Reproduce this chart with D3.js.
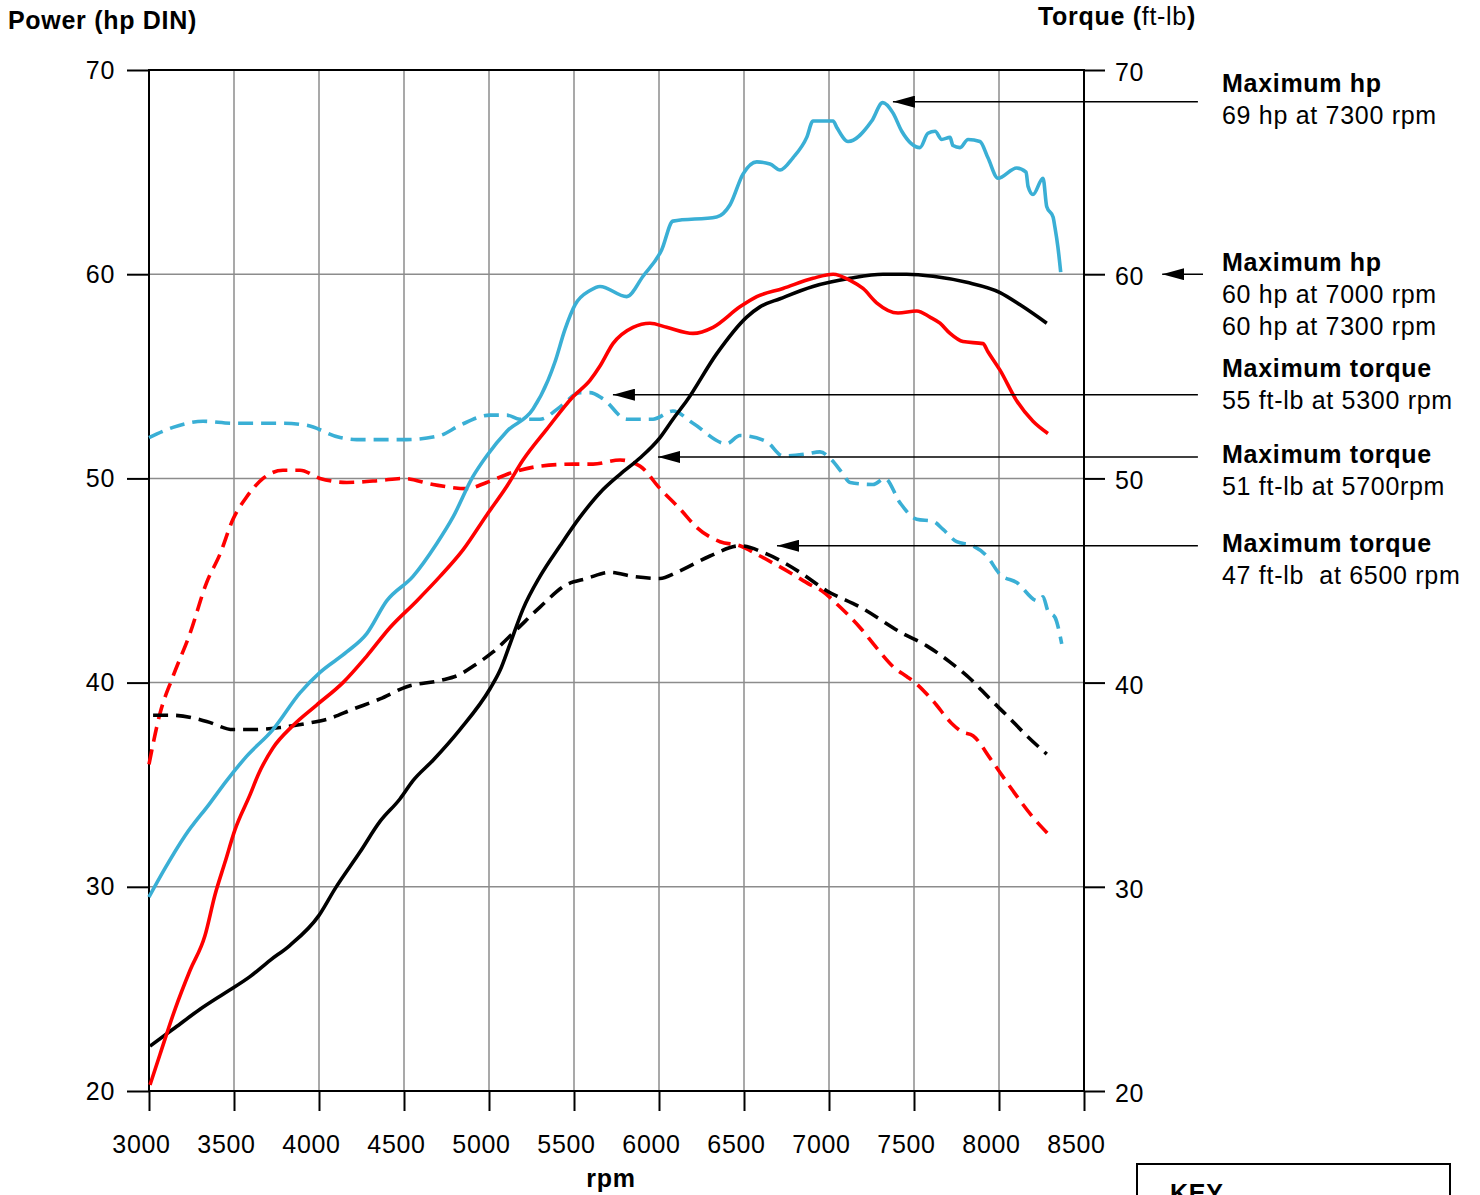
<!DOCTYPE html>
<html lang="en">
<head>
    <meta charset="UTF-8">
    <title>Power and torque curves</title>
    <style>
        body, html {
            margin: 0;
            overflow: hidden;
            background: #fff;
        }
        svg text {
            font-family: "Liberation Sans", Arial, Helvetica, sans-serif;
            letter-spacing: 0.7px;
            white-space: pre;
        }
    </style>
</head>
<body>

<script src="https://d3js.org/d3.v7.min.js"></script>

<script>
    // ---- data (rpm, value) ----
    const powerBlue = [[3000,29.5],[3094,30.9],[3212,32.5],[3359,34.1],[3457,35.2],[3575,36.4],[3729,37.7],[3888,39.5],[4006,40.5],[4163,41.5],[4281,42.4],[4398,44.0],[4553,45.2],[4692,46.8],[4788,48.1],[4906,50.1],[4986,51.1],[5104,52.3],[5259,53.4],[5347,54.8],[5388,55.7],[5447,57.3],[5506,58.5],[5594,59.2],[5653,59.4],[5810,58.9],[5906,59.9],[6016,61.2],[6082,62.6],[6339,62.8],[6418,63.4],[6494,64.9],[6575,65.5],[6653,65.4],[6712,65.1],[6788,65.7],[6869,66.7],[6906,67.5],[7024,67.5],[7045,67.2],[7112,66.5],[7251,67.5],[7316,68.4],[7376,67.9],[7428,67.0],[7535,66.2],[7582,66.9],[7624,67.0],[7663,66.6],[7712,66.7],[7729,66.3],[7771,66.2],[7818,66.6],[7888,66.5],[7935,65.7],[7994,64.7],[8104,65.2],[8159,65.0],[8171,64.3],[8200,63.9],[8259,64.7],[8281,63.3],[8318,62.8],[8329,62.3],[8347,61.3],[8363,60.1]];

    const powerRed = [[3006,20.3],[3065,21.8],[3153,24.0],[3241,25.9],[3329,27.6],[3388,29.6],[3447,31.2],[3506,32.8],[3594,34.5],[3643,35.5],[3729,36.8],[3847,37.9],[3986,38.9],[4141,40.0],[4281,41.3],[4418,42.7],[4575,44.0],[4712,45.2],[4847,46.5],[4986,48.2],[5104,49.6],[5200,50.9],[5339,52.4],[5494,54.0],[5594,54.8],[5653,55.5],[5729,56.6],[5847,57.4],[5947,57.6],[6045,57.4],[6200,57.1],[6318,57.4],[6476,58.4],[6575,58.9],[6729,59.3],[6906,59.8],[7024,60.0],[7124,59.7],[7200,59.3],[7280,58.6],[7406,58.1],[7516,58.2],[7594,57.9],[7653,57.6],[7712,57.1],[7788,56.7],[7906,56.6],[7935,56.2],[8006,55.3],[8104,53.8],[8200,52.8],[8288,52.2]];

    const powerBlack = [[3006,22.2],[3153,23.1],[3300,24.0],[3447,24.8],[3594,25.6],[3712,26.4],[3824,27.1],[4000,28.6],[4094,29.9],[4241,31.7],[4359,33.2],[4476,34.3],[4553,35.2],[4671,36.2],[4829,37.7],[5006,39.7],[5065,40.6],[5124,41.9],[5200,43.6],[5300,45.2],[5418,46.7],[5535,48.1],[5653,49.3],[5771,50.2],[5888,51.0],[6006,52.0],[6082,52.9],[6163,53.8],[6339,56.1],[6516,57.9],[6594,58.4],[6712,58.8],[6906,59.4],[7124,59.8],[7318,60.0],[7457,60.0],[7612,59.9],[7810,59.6],[8006,59.1],[8124,58.5],[8281,57.6]];

    const torqueBlue = [[3000,52.0],[3141,52.5],[3318,52.8],[3494,52.7],[3633,52.7],[3788,52.7],[3928,52.6],[4124,52.0],[4222,51.9],[4516,51.9],[4712,52.1],[4829,52.6],[5006,53.1],[5104,53.1],[5182,52.9],[5300,52.9],[5418,53.5],[5535,54.2],[5594,54.2],[5671,53.9],[5810,52.9],[5965,52.9],[6082,53.3],[6200,52.7],[6398,51.7],[6476,52.1],[6633,51.8],[6729,51.1],[6869,51.2],[6947,51.3],[7016,50.9],[7075,50.3],[7124,49.8],[7259,49.7],[7329,50.0],[7418,48.8],[7516,48.0],[7612,47.9],[7671,47.5],[7751,46.9],[7847,46.7],[7928,46.2],[8006,45.3],[8104,44.9],[8229,44.0],[8259,44.2],[8288,43.5],[8329,43.2],[8369,41.9]];

    const torqueRed = [[3000,36.0],[3065,38.5],[3141,40.3],[3241,42.4],[3339,44.9],[3418,46.3],[3494,48.0],[3575,49.1],[3671,50.0],[3788,50.4],[3888,50.4],[4006,50.0],[4163,49.8],[4359,49.9],[4494,50.0],[4671,49.7],[4869,49.5],[4986,49.8],[5141,50.3],[5300,50.6],[5494,50.7],[5612,50.7],[5771,50.9],[5888,50.6],[6006,49.5],[6124,48.5],[6222,47.6],[6359,46.9],[6476,46.7],[6594,46.2],[6788,45.3],[6888,44.8],[6957,44.5],[7065,43.7],[7182,42.7],[7280,41.7],[7388,40.7],[7457,40.3],[7506,40.0],[7612,39.1],[7722,38.0],[7780,37.6],[7847,37.4],[7947,36.3],[8006,35.6],[8082,34.7],[8200,33.4],[8288,32.6]];

    const torqueBlack = [[3024,38.4],[3141,38.4],[3339,38.1],[3494,37.7],[3612,37.7],[3771,37.8],[3928,38.0],[4045,38.2],[4200,38.7],[4359,39.2],[4516,39.8],[4712,40.1],[4829,40.4],[4906,40.8],[5024,41.5],[5163,42.6],[5300,43.7],[5457,44.8],[5575,45.1],[5712,45.4],[5847,45.2],[6006,45.1],[6104,45.4],[6300,46.2],[6476,46.7],[6633,46.3],[6829,45.4],[6986,44.5],[7182,43.7],[7435,42.4],[7575,41.8],[7712,41.0],[7829,40.2],[7947,39.2],[8045,38.4],[8163,37.4],[8281,36.5]];

    const rpmTicks = [3000, 3500, 4000, 4500, 5000, 5500, 6000, 6500, 7000, 7500, 8000, 8500];
    const valueTicks = [20, 30, 40, 50, 60, 70];

    // annotation arrows: [tail rpm, tip rpm, value]
    const arrows = [[9170, 7376, 68.45], [9200, 8960, 60.0], [9170, 5729, 54.1], [9170, 5994, 51.05], [9170, 6694, 46.7]];
    const noteTitles = ["Maximum hp", "Maximum hp", "Maximum torque", "Maximum torque", "Maximum torque"];
    const noteLines = [
        ["69 hp at 7300 rpm"],
        ["60 hp at 7000 rpm", "60 hp at 7300 rpm"],
        ["55 ft-lb at 5300 rpm"],
        ["51 ft-lb at 5700rpm"],
        ["47 ft-lb  at 6500 rpm"]
    ];
    const noteBaselines = [92, 271, 377, 463, 552];

    // ---- layout ----
    const width = 1480, height = 1195;
    const blue = "#3aafd5", red = "#ff0000";

    const x = d3.scaleLinear().domain([3000, 8500]).range([149, 1084]);
    const y = d3.scaleLinear().domain([20, 70]).range([1091, 70]);

    const svg = d3.select("body").append("svg")
        .attr("width", width)
        .attr("height", height);

    // grid
    svg.append("g")
        .selectAll("line")
        .data(rpmTicks.slice(1, -1))
        .join("line")
        .attr("x1", d => x(d)).attr("x2", d => x(d))
        .attr("y1", y(70)).attr("y2", y(20))
        .attr("stroke", "#8c8c8c")
        .attr("stroke-width", 1.5);

    svg.append("g")
        .selectAll("line")
        .data(valueTicks.slice(1, -1))
        .join("line")
        .attr("x1", x(3000)).attr("x2", x(8500))
        .attr("y1", d => y(d)).attr("y2", d => y(d))
        .attr("stroke", "#8c8c8c")
        .attr("stroke-width", 1.5);

    // axes
    const xAxis = svg.append("g")
        .attr("transform", `translate(0,${y(20)})`)
        .call(d3.axisBottom(x).tickValues(rpmTicks).tickSize(20).tickPadding(24).tickFormat(d3.format("d")));
    xAxis.selectAll("text").attr("dx", -8);

    const yLeft = svg.append("g")
        .attr("transform", `translate(${x(3000)},0)`)
        .call(d3.axisLeft(y).tickValues(valueTicks).tickSize(22).tickPadding(12));

    const yRight = svg.append("g")
        .attr("transform", `translate(${x(8500)},0)`)
        .call(d3.axisRight(y).tickValues(valueTicks).tickSize(21).tickPadding(10));
    yRight.selectAll("text").attr("dy", "0.42em");

    [xAxis, yLeft, yRight].forEach(g => {
        g.select(".domain").remove();
        g.selectAll("line").attr("stroke", "#000").attr("stroke-width", 2);
        g.selectAll("text")
            .attr("fill", "#000")
            .style("font-size", "25px");
    });

    // frame
    svg.append("rect")
        .attr("x", x(3000)).attr("y", y(70))
        .attr("width", x(8500) - x(3000))
        .attr("height", y(20) - y(70))
        .attr("fill", "none")
        .attr("stroke", "#000")
        .attr("stroke-width", 2);

    // curves
    const line = d3.line()
        .x(d => x(d[0]))
        .y(d => y(d[1]))
        .curve(d3.curveMonotoneX);

    const series = [
        [torqueBlue, blue, true],
        [torqueRed, red, true],
        [torqueBlack, "#000", true],
        [powerBlack, "#000", false],
        [powerRed, red, false],
        [powerBlue, blue, false]
    ];

    svg.append("g")
        .selectAll("path")
        .data(series)
        .join("path")
        .attr("d", d => line(d[0]))
        .attr("fill", "none")
        .attr("stroke", d => d[1])
        .attr("stroke-width", 3.6)
        .attr("stroke-linejoin", "round")
        .attr("stroke-dasharray", d => d[2] ? "15,8" : null);

    // arrows
    svg.append("defs").append("marker")
        .attr("id", "head")
        .attr("viewBox", "0 0 22 12")
        .attr("refX", 0).attr("refY", 6)
        .attr("markerWidth", 22).attr("markerHeight", 12)
        .attr("markerUnits", "userSpaceOnUse")
        .attr("orient", "auto")
        .append("path")
        .attr("d", "M0,6L22,0L22,12Z")
        .attr("fill", "#000");

    svg.append("g")
        .selectAll("line")
        .data(arrows)
        .join("line")
        .attr("x1", d => x(d[1])).attr("x2", d => x(d[0]))
        .attr("y1", d => y(d[2])).attr("y2", d => y(d[2]))
        .attr("stroke", "#000")
        .attr("stroke-width", 1.5)
        .attr("marker-start", "url(#head)");

    // notes
    const notes = svg.append("g");
    noteTitles.forEach((t, i) => {
        notes.append("text")
            .attr("x", 1222).attr("y", noteBaselines[i])
            .style("font-size", "25px")
            .style("font-weight", "bold")
            .text(t);
        noteLines[i].forEach((s, j) => {
            notes.append("text")
                .attr("x", 1222).attr("y", noteBaselines[i] + 32 * (j + 1))
                .style("font-size", "25px")
                .text(s);
        });
    });

    // titles
    svg.append("text")
        .attr("x", 8).attr("y", 29)
        .style("font-size", "25px")
        .style("font-weight", "bold")
        .text("Power (hp DIN)");

    const tq = svg.append("text")
        .attr("x", 1038).attr("y", 25)
        .style("font-size", "25px");
    tq.append("tspan").style("font-weight", "bold").text("Torque (");
    tq.append("tspan").text("ft-lb");
    tq.append("tspan").style("font-weight", "bold").text(")");

    svg.append("text")
        .attr("x", 611).attr("y", 1187)
        .attr("text-anchor", "middle")
        .style("font-size", "25px")
        .style("font-weight", "bold")
        .text("rpm");

    // key box (runs off the bottom, as in the source)
    svg.append("rect")
        .attr("x", 1137).attr("y", 1164)
        .attr("width", 313).attr("height", 120)
        .attr("fill", "none")
        .attr("stroke", "#000")
        .attr("stroke-width", 2);

    svg.append("text")
        .attr("x", 1170).attr("y", 1202)
        .style("font-size", "25px")
        .style("font-weight", "bold")
        .text("KEY");
</script>

</body>
</html>
